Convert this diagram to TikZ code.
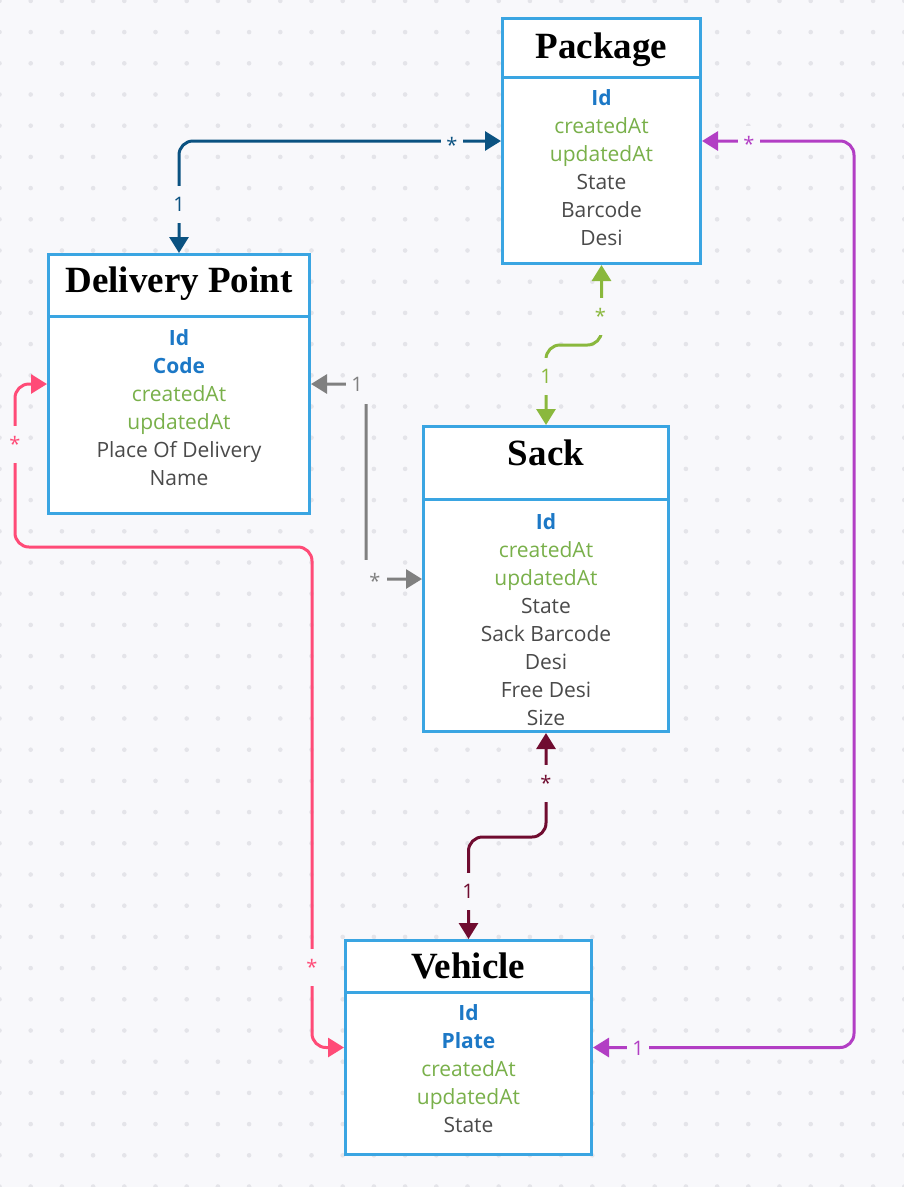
\documentclass[tikz,border=0pt]{standalone}
\usepackage{fontspec}
\setmainfont{Liberation Serif}
\newfontfamily\attrfont{Open Sans}
\usetikzlibrary{arrows.meta}
\definecolor{bg}{HTML}{F8F8FB}
\definecolor{dotc}{HTML}{E4E4E9}
\definecolor{boxc}{HTML}{3AA5E2}
\definecolor{keyblue}{HTML}{1C78C6}
\definecolor{tsgreen}{HTML}{79B04A}
\definecolor{txtgray}{HTML}{4A4A4A}
\definecolor{cblue}{HTML}{0B5281}
\definecolor{cgreen}{HTML}{8AB83D}
\definecolor{cgray}{HTML}{808080}
\definecolor{cpink}{HTML}{FF4B77}
\definecolor{cmaroon}{HTML}{700C30}
\definecolor{cpurple}{HTML}{B23EC4}
\tikzset{
  ent/.style={draw=boxc, line width=3pt, fill=white, inner sep=0pt},
  divline/.style={draw=boxc, line width=3pt},
  ttl/.style={font=\fontsize{37}{40}\selectfont\bfseries, anchor=base, inner sep=0pt, text=black},
  attr/.style={font=\attrfont\fontsize{21}{24}\selectfont, anchor=base, inner sep=0pt, text=txtgray},
  keyattr/.style={attr, font=\attrfont\bfseries\fontsize{21}{24}\selectfont, text=keyblue},
  tsattr/.style={attr, text=tsgreen},
  conn/.style={line width=3pt, {Triangle[length=16pt,width=19pt]}-{Triangle[length=16pt,width=19pt]}, rounded corners=14pt},
  lbl/.style={font=\attrfont\fontsize{20}{24}\selectfont, fill=bg, inner xsep=5pt, inner ysep=11.5pt, text height=14pt, text depth=0pt}
}
\begin{document}
\begin{tikzpicture}[x=1pt,y=-1pt]
\useasboundingbox (0,0) rectangle (904,1187);
\fill[bg] (0,0) rectangle (904,1187);
\foreach \i in {0,...,29} {
  \foreach \j in {0,...,38} {
    \fill[dotc] (31.2*\i-0.5, 31.2*\j+0.9) circle (2.3pt);
  }
}

% ---------- entities ----------
\node[ent, minimum width=198pt, minimum height=245pt] (pkg) at (601.5,141) {};
\node[ent, minimum width=261pt, minimum height=259pt] (dp) at (179,384) {};
\node[ent, minimum width=245pt, minimum height=305pt] (sack) at (546,579) {};
\node[ent, minimum width=246pt, minimum height=214pt] (veh) at (468.5,1047.5) {};

\draw[divline] (501,77) -- (702,77);
\draw[divline] (47,316) -- (311,316);
\draw[divline] (422,499) -- (670,499);
\draw[divline] (344,992) -- (593,992);

% Package
\node[ttl] (pkgt) at (601.5,58) {Package};
\node[keyattr] (pkg1) at (601.5,105.5) {Id};
\node[tsattr] (pkg2) at (601.5,133.5) {createdAt};
\node[tsattr] (pkg3) at (601.5,161.5) {updatedAt};
\node[attr] (pkg4) at (601.5,189.5) {State};
\node[attr] (pkg5) at (601.5,217.5) {Barcode};
\node[attr] (pkg6) at (601.5,245.5) {Desi};

% Delivery Point
\node[ttl] (dpt) at (179,292) {Delivery Point};
\node[keyattr] (dp1) at (179,345) {Id};
\node[keyattr] (dp2) at (179,373) {Code};
\node[tsattr] (dp3) at (179,401) {createdAt};
\node[tsattr] (dp4) at (179,429) {updatedAt};
\node[attr] (dp5) at (179,457) {Place Of Delivery};
\node[attr] (dp6) at (179,485) {Name};

% Sack
\node[ttl] (sackt) at (546,465) {Sack};
\node[keyattr] (sack1) at (546,529) {Id};
\node[tsattr] (sack2) at (546,557) {createdAt};
\node[tsattr] (sack3) at (546,585) {updatedAt};
\node[attr] (sack4) at (546,613) {State};
\node[attr] (sack5) at (546,641) {Sack Barcode};
\node[attr] (sack6) at (546,669) {Desi};
\node[attr] (sack7) at (546,697) {Free Desi};
\node[attr] (sack8) at (546,725) {Size};

% Vehicle
\node[ttl] (veht) at (468.5,978) {Vehicle};
\node[keyattr] (veh1) at (468.5,1020) {Id};
\node[keyattr] (veh2) at (468.5,1048) {Plate};
\node[tsattr] (veh3) at (468.5,1076) {createdAt};
\node[tsattr] (veh4) at (468.5,1104) {updatedAt};
\node[attr] (veh5) at (468.5,1132) {State};

% ---------- connectors ----------
\coordinate (pk1) at (15,547);
\coordinate (pk2) at (312,547);
\coordinate (pu1) at (854,600);

\draw[conn, cblue] (dp.north) |- (pkg.west);
\draw[conn, cgreen] (pkg.south) -- ++(0,80) -| (sack.north);
\draw[conn, cgray] (dp.east) -- ++(55,0) |- (sack.west);
\draw[conn, cpink] (dp.west) -| (pk1) -- (pk2) |- (veh.west);
\draw[conn, cmaroon] (sack.south) -- ++(0,104) -| (veh.north);
\draw[conn, cpurple] (pkg.east) -| (pu1) |- (veh.east);

% ---------- multiplicity labels ----------
\node[lbl, text=cblue] (lb1) at (179,204) {1};
\node[lbl, text=cblue] (lb2) at (452,145) {*};
\node[lbl, text=cgreen] (lg1) at (600.5,316) {*};
\node[lbl, text=cgreen] (lg2) at (546,376) {1};
\node[lbl, text=cgray, minimum height=40pt, minimum width=23pt] (lr1) at (357,384) {1};
\node[lbl, text=cgray, minimum height=42pt, minimum width=24pt] (lr2) at (375,581) {*};
\node[lbl, text=cpink] (lp1) at (15,444) {*};
\node[lbl, text=cpink] (lp2) at (312,967) {*};
\node[lbl, text=cmaroon] (lm1) at (546,783) {*};
\node[lbl, text=cmaroon] (lm2) at (468,891) {1};
\node[lbl, text=cpurple] (lu1) at (749,144) {*};
\node[lbl, text=cpurple] (lu2) at (638,1048) {1};
\end{tikzpicture}
\end{document}
